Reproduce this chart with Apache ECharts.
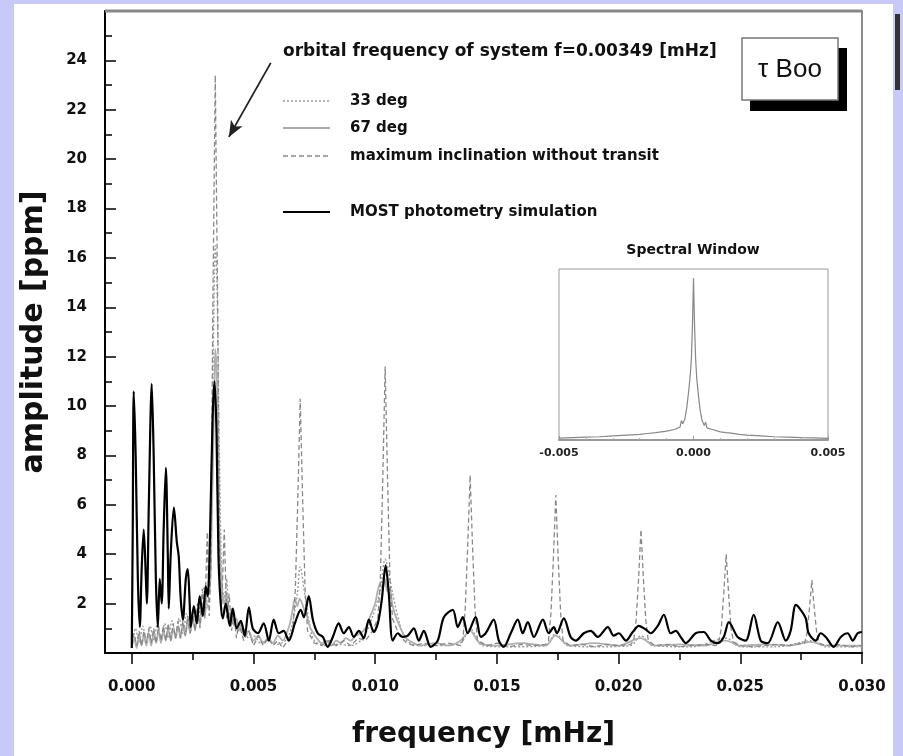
<!DOCTYPE html>
<html>
<head>
<meta charset="utf-8">
<title>tau Boo amplitude spectrum</title>
<script src="https://cdn.jsdelivr.net/npm/echarts@6/dist/echarts.min.js"></script>
<style>
  html, body { margin: 0; padding: 0; background: #c9c9f7; }
  #chart { width: 903px; height: 756px; }
</style>
</head>
<body>
<div id="chart"></div>
<script>
// frequency [mHz], amplitude [ppm]
const deg33 = [
  [0.0000, 0.4], [0.00015, 1.0], [0.0003, 0.4], [0.00045, 1.1], [0.0006, 0.5], [0.00075, 1.1],
  [0.0009, 0.5], [0.00105, 1.2], [0.0012, 0.5], [0.00135, 1.2], [0.0015, 0.6], [0.00165, 1.3],
  [0.0018, 0.7], [0.00195, 1.4], [0.0021, 0.8], [0.00225, 1.6], [0.0024, 0.9], [0.00255, 1.8],
  [0.0027, 1.2], [0.00285, 2.2], [0.0030, 2.7], [0.0031, 1.8], [0.0032, 3.5], [0.0033, 9.0],
  [0.0034, 15.5], [0.00343, 16.5], [0.0035, 15.0], [0.0036, 8.0], [0.0037, 3.0], [0.0038, 2.2],
  [0.0039, 3.0], [0.0040, 1.5], [0.0042, 1.3], [0.0044, 0.9], [0.0046, 1.0], [0.0048, 0.6],
  [0.0050, 0.7], [0.0053, 0.4], [0.0056, 0.5], [0.0060, 0.35], [0.0064, 0.6], [0.0066, 1.2],
  [0.0068, 2.4], [0.00692, 3.5], [0.0071, 2.4], [0.0073, 1.2], [0.0075, 0.5], [0.0080, 0.3],
  [0.0085, 0.35], [0.0090, 0.3], [0.0095, 0.6], [0.0099, 1.5], [0.0102, 2.5], [0.01041, 3.8],
  [0.0107, 2.5], [0.0110, 1.2], [0.0113, 0.5], [0.0118, 0.3], [0.0125, 0.3], [0.0135, 0.4],
  [0.0139, 1.0], [0.0144, 0.3], [0.0155, 0.25], [0.0170, 0.3], [0.01742, 0.8], [0.0179, 0.3],
  [0.0190, 0.25], [0.0205, 0.3], [0.02092, 0.7], [0.0214, 0.3], [0.0230, 0.25], [0.02442, 0.6],
  [0.0250, 0.25], [0.0265, 0.25], [0.02794, 0.5], [0.0285, 0.25], [0.0300, 0.25]
];

const deg67 = [
  [0.0000, 0.2], [0.0001, 0.6], [0.0002, 0.2], [0.0003, 0.7], [0.0004, 0.3], [0.0005, 0.7],
  [0.0006, 0.3], [0.0007, 0.8], [0.0008, 0.3], [0.0009, 0.8], [0.0010, 0.4], [0.0011, 0.9],
  [0.0012, 0.4], [0.0013, 0.9], [0.0014, 0.5], [0.0015, 1.0], [0.0016, 0.5], [0.0017, 1.0],
  [0.0018, 0.6], [0.0019, 1.1], [0.0020, 0.6], [0.0021, 1.2], [0.0022, 0.7], [0.0023, 1.3],
  [0.0024, 0.8], [0.0025, 1.5], [0.0026, 0.9], [0.0027, 1.8], [0.0028, 1.1], [0.0029, 2.0],
  [0.0030, 1.5], [0.0031, 2.6], [0.0032, 2.4], [0.0033, 6.0], [0.0034, 11.0], [0.00343, 12.3],
  [0.0035, 11.0], [0.0036, 5.0], [0.0037, 2.6], [0.0038, 2.0], [0.0039, 2.4], [0.0040, 1.4],
  [0.0041, 1.8], [0.0042, 1.1], [0.0043, 1.4], [0.0044, 0.9], [0.0045, 1.2], [0.0046, 0.7],
  [0.0048, 0.9], [0.0050, 0.5], [0.0052, 0.7], [0.0054, 0.4], [0.0056, 0.6], [0.0058, 0.4],
  [0.0060, 0.7], [0.0062, 0.5], [0.0064, 0.9], [0.0065, 1.2], [0.0066, 1.7], [0.0067, 2.2],
  [0.0068, 1.9], [0.0069, 2.2], [0.0070, 2.0], [0.0071, 1.7], [0.0072, 1.5], [0.0073, 1.1],
  [0.0074, 0.9], [0.0076, 0.6], [0.0078, 0.4], [0.0080, 0.5], [0.0082, 0.3], [0.0084, 0.5],
  [0.0086, 0.4], [0.0088, 0.6], [0.0090, 0.5], [0.0092, 0.7], [0.0094, 0.8], [0.0096, 1.0],
  [0.0098, 1.5], [0.0100, 2.0], [0.0101, 2.5], [0.0102, 2.8], [0.0103, 2.6], [0.0104, 3.0],
  [0.0105, 2.5], [0.0106, 2.6], [0.0107, 2.0], [0.0108, 1.6], [0.0110, 1.1], [0.0112, 0.7],
  [0.0114, 0.5], [0.0116, 0.4], [0.0118, 0.3], [0.0125, 0.4], [0.0130, 0.3], [0.0135, 0.5],
  [0.0139, 0.9], [0.0143, 0.4], [0.0150, 0.3], [0.0160, 0.4], [0.0170, 0.3], [0.0174, 0.7],
  [0.0180, 0.3], [0.0190, 0.4], [0.0200, 0.3], [0.0209, 0.6], [0.0215, 0.3], [0.0225, 0.35],
  [0.0235, 0.3], [0.0244, 0.5], [0.0250, 0.3], [0.0260, 0.35], [0.0270, 0.3], [0.0279, 0.45],
  [0.0285, 0.3], [0.0300, 0.3]
];

const maxIncl = [
  [0.0000, 0.3], [0.0001, 0.8], [0.0002, 0.3], [0.0003, 0.9], [0.0004, 0.3], [0.0005, 0.9],
  [0.0006, 0.4], [0.0007, 1.0], [0.0008, 0.4], [0.0009, 1.0], [0.0010, 0.4], [0.0011, 1.1],
  [0.0012, 0.5], [0.0013, 1.1], [0.0014, 0.5], [0.0015, 1.2], [0.0016, 0.5], [0.0017, 1.2],
  [0.0018, 0.6], [0.0019, 1.3], [0.0020, 0.6], [0.0021, 1.3], [0.0022, 0.7], [0.0023, 1.5],
  [0.0024, 0.8], [0.0025, 1.6], [0.0026, 0.9], [0.0027, 2.0], [0.0028, 1.0], [0.0029, 2.6],
  [0.0030, 1.4], [0.0031, 4.9], [0.00318, 1.5], [0.00325, 3.5], [0.00333, 14.0], [0.00343, 23.4],
  [0.00353, 14.0], [0.00361, 3.5], [0.00368, 1.5], [0.0038, 5.0], [0.0039, 1.4], [0.0040, 2.4],
  [0.0041, 0.9], [0.0042, 1.6], [0.0043, 0.6], [0.0044, 1.2], [0.0046, 0.5], [0.0048, 0.9],
  [0.0050, 0.3], [0.0052, 0.7], [0.0054, 0.3], [0.0056, 0.6], [0.0058, 0.3], [0.0060, 0.5],
  [0.0062, 0.2], [0.0064, 0.5], [0.00662, 0.9], [0.00672, 2.6], [0.00682, 6.2], [0.00692, 10.3],
  [0.00702, 6.2], [0.00712, 2.6], [0.00722, 0.9], [0.0075, 0.4], [0.0078, 0.3], [0.0081, 0.5],
  [0.0084, 0.3], [0.0087, 0.5], [0.0090, 0.3], [0.0093, 0.6], [0.0096, 0.5], [0.0099, 0.9],
  [0.01011, 1.4], [0.01021, 2.9], [0.01031, 7.0], [0.01041, 11.6], [0.01051, 7.0], [0.01061, 2.9],
  [0.01071, 1.4], [0.0110, 0.7], [0.0113, 0.4], [0.0116, 0.3], [0.0120, 0.4], [0.0125, 0.3],
  [0.0130, 0.4], [0.0135, 0.3], [0.0136, 0.5], [0.0137, 1.8], [0.0138, 4.3], [0.0139, 7.2],
  [0.0140, 4.3], [0.0141, 1.8], [0.0142, 0.5], [0.0146, 0.3], [0.0150, 0.4], [0.0155, 0.25],
  [0.0160, 0.35], [0.0165, 0.3], [0.0170, 0.35], [0.01712, 0.5], [0.01722, 1.6], [0.01732, 3.8],
  [0.01742, 6.4], [0.01752, 3.8], [0.01762, 1.6], [0.01772, 0.5], [0.0180, 0.3], [0.0185, 0.35],
  [0.0190, 0.25], [0.0195, 0.35], [0.0200, 0.3], [0.0205, 0.35], [0.02062, 0.5], [0.02072, 1.3],
  [0.02082, 3.0], [0.02092, 5.0], [0.02102, 3.0], [0.02112, 1.3], [0.02122, 0.5], [0.0215, 0.3],
  [0.0220, 0.35], [0.0225, 0.25], [0.0230, 0.3], [0.0235, 0.35], [0.0240, 0.3], [0.02412, 0.45],
  [0.02422, 1.0], [0.02432, 2.4], [0.02442, 4.0], [0.02452, 2.4], [0.02462, 1.0], [0.02472, 0.45],
  [0.0250, 0.3], [0.0255, 0.25], [0.0260, 0.3], [0.0265, 0.35], [0.0270, 0.3], [0.02764, 0.4],
  [0.02774, 0.8], [0.02784, 1.8], [0.02794, 2.95], [0.02804, 1.8], [0.02814, 0.8], [0.02824, 0.4],
  [0.0285, 0.3], [0.0290, 0.35], [0.0295, 0.25], [0.0300, 0.3]
];

const mostSim = [
  [0.00000, 0.2], [0.00004, 5.0], [0.00008, 10.6], [0.00016, 8.0], [0.00025, 3.0], [0.00033, 1.05],
  [0.00041, 3.5], [0.00049, 5.0], [0.00058, 3.0], [0.00062, 2.0], [0.00070, 6.0], [0.00082, 10.9],
  [0.00090, 8.0], [0.00099, 3.0], [0.00107, 1.05], [0.00115, 3.0], [0.00123, 2.0], [0.00131, 5.0],
  [0.00140, 7.5], [0.00148, 4.0], [0.00152, 1.8], [0.00160, 4.0], [0.00173, 5.9], [0.00185, 4.5],
  [0.00193, 3.9], [0.00201, 2.2], [0.00210, 1.35], [0.00222, 3.0], [0.00230, 3.4], [0.00238, 2.0],
  [0.00242, 1.05], [0.00255, 1.9], [0.00267, 1.2], [0.00279, 2.3], [0.00292, 1.5], [0.00304, 2.7],
  [0.00312, 2.3], [0.00322, 5.0], [0.00332, 9.5], [0.00340, 11.0], [0.00348, 9.0], [0.00356, 4.0],
  [0.00364, 2.2], [0.00374, 1.4], [0.00386, 2.0], [0.00403, 1.1], [0.00415, 1.8], [0.00431, 1.0],
  [0.00448, 1.3], [0.00464, 0.7], [0.00481, 1.85], [0.00497, 1.0], [0.00518, 0.8], [0.00542, 1.2],
  [0.00563, 0.5], [0.00583, 1.35], [0.00604, 0.8], [0.00624, 0.9], [0.00645, 0.5], [0.00670, 1.2],
  [0.00694, 1.75], [0.00707, 1.45], [0.00727, 2.3], [0.00744, 1.35], [0.00764, 0.8], [0.00785, 0.65],
  [0.00805, 0.25], [0.00826, 0.65], [0.00850, 1.2], [0.00871, 0.8], [0.00892, 1.05], [0.00912, 0.65],
  [0.00933, 0.9], [0.00953, 0.6], [0.00974, 1.35], [0.00994, 0.85], [0.01011, 1.2], [0.01027, 2.15],
  [0.01043, 3.55], [0.01056, 2.4], [0.01072, 0.5], [0.01093, 0.8], [0.01113, 0.65], [0.01134, 0.7],
  [0.01159, 1.0], [0.01179, 0.5], [0.01200, 0.9], [0.01228, 0.25], [0.01257, 0.5], [0.01282, 1.45],
  [0.01319, 1.75], [0.01339, 1.05], [0.01360, 1.45], [0.01380, 0.8], [0.01413, 1.45], [0.01434, 0.65],
  [0.01454, 0.8], [0.01487, 1.35], [0.01508, 0.5], [0.01528, 0.25], [0.01557, 0.8], [0.01586, 1.35],
  [0.01606, 0.8], [0.01627, 1.25], [0.01652, 0.65], [0.01689, 1.35], [0.01713, 0.8], [0.01734, 1.05],
  [0.01746, 0.8], [0.01775, 1.4], [0.01803, 0.65], [0.01824, 0.5], [0.01857, 0.8], [0.01886, 0.9],
  [0.01914, 0.65], [0.01956, 1.05], [0.01980, 0.7], [0.02001, 0.8], [0.02030, 0.5], [0.02058, 0.85],
  [0.02083, 1.1], [0.02112, 0.95], [0.02132, 0.8], [0.02161, 1.1], [0.02186, 1.55], [0.02214, 0.8],
  [0.02235, 0.9], [0.02255, 0.65], [0.02276, 0.4], [0.02317, 0.8], [0.02350, 0.85], [0.02379, 0.5],
  [0.02407, 0.4], [0.02432, 0.65], [0.02453, 1.25], [0.02489, 0.65], [0.02522, 0.5], [0.02555, 1.55],
  [0.02584, 0.5], [0.02613, 0.4], [0.02654, 1.25], [0.02687, 0.5], [0.02707, 0.9], [0.02728, 1.95],
  [0.02748, 1.75], [0.02769, 1.4], [0.02781, 0.8], [0.02810, 0.5], [0.02830, 0.8], [0.02851, 0.65],
  [0.02884, 0.25], [0.02913, 0.65], [0.02941, 0.8], [0.02962, 0.5], [0.02982, 0.8], [0.03000, 0.85]
];

// spectral window inset: frequency offset [mHz], relative power
const spectralWindow = [
  [-0.0050, 0.012], [-0.0045, 0.015], [-0.0040, 0.018], [-0.0035, 0.02], [-0.0030, 0.025],
  [-0.0025, 0.03], [-0.0020, 0.035], [-0.0017, 0.04], [-0.0014, 0.045], [-0.0012, 0.05],
  [-0.0010, 0.055], [-0.0007, 0.065], [-0.0005, 0.08], [-0.00045, 0.12], [-0.0004, 0.1],
  [-0.00032, 0.13], [-0.00025, 0.2], [-0.00018, 0.3], [-0.00012, 0.4], [-0.00008, 0.5],
  [-0.00004, 0.7], [0.0, 1.0], [0.00004, 0.7], [0.00008, 0.5], [0.00012, 0.38], [0.00018, 0.28],
  [0.00025, 0.18], [0.00032, 0.12], [0.0004, 0.09], [0.00045, 0.11], [0.0005, 0.075],
  [0.0007, 0.065], [0.0010, 0.05], [0.0012, 0.045], [0.0014, 0.042], [0.0017, 0.035],
  [0.0020, 0.03], [0.0025, 0.025], [0.0030, 0.02], [0.0035, 0.018], [0.0040, 0.015],
  [0.0045, 0.013], [0.0050, 0.01]
];

const xLabelValues = [0, 0.005, 0.010, 0.015, 0.020, 0.025, 0.030];
const xMinorValues = [0.0025, 0.0075, 0.0125, 0.0175, 0.0225, 0.0275];
const legendNames = ['33 deg', '67 deg', 'maximum inclination without transit', 'MOST photometry simulation'];
const orbitalNote = 'orbital frequency of system f=0.00349 [mHz]';

const FONT = '"DejaVu Sans", "Liberation Sans", sans-serif';

const chart = echarts.init(document.getElementById('chart'));

const legendRows = [
  { y: 101, dash: [2, 2], color: '#9a9a9a', width: 1.5 },
  { y: 128, dash: null, color: '#ababab', width: 2 },
  { y: 156, dash: [5, 3], color: '#8a8a8a', width: 1.3 },
  { y: 212, dash: null, color: '#000', width: 2.2 }
];

const legendGraphics = [];
legendRows.forEach((row, i) => {
  legendGraphics.push({
    type: 'line',
    shape: { x1: 283, y1: row.y, x2: 330, y2: row.y },
    style: { stroke: row.color, lineWidth: row.width, lineDash: row.dash }
  });
  legendGraphics.push({
    type: 'text',
    x: 350,
    y: row.y,
    style: {
      text: legendNames[i],
      font: 'bold 15px ' + FONT,
      fill: '#111',
      verticalAlign: 'middle'
    }
  });
});

const option = {
  backgroundColor: 'transparent',
  animation: false,
  graphic: [
    { type: 'rect', z: -10, shape: { x: 14, y: 4, width: 879, height: 752 }, style: { fill: '#fff' } },
    { type: 'rect', z: -9, shape: { x: 895, y: 14, width: 5, height: 76 }, style: { fill: '#333' } },
    {
      type: 'line', z: 50,
      shape: { x1: 105, y1: 11, x2: 862, y2: 11 },
      style: { stroke: '#888', lineWidth: 3 }
    },
    {
      type: 'text',
      x: 283, y: 52,
      style: { text: orbitalNote, font: 'bold 17px ' + FONT, fill: '#111', verticalAlign: 'middle' }
    },
    ...legendGraphics,
    // tau Boo label box with shadow
    { type: 'rect', shape: { x: 750, y: 48, width: 97, height: 63 }, style: { fill: '#000' } },
    { type: 'rect', shape: { x: 742, y: 38, width: 96, height: 62 }, style: { fill: '#fff', stroke: '#777', lineWidth: 1.5 } },
    {
      type: 'text', x: 790, y: 70,
      style: { text: 'τ Boo', font: '26px "Liberation Sans", sans-serif', fill: '#111', align: 'center', verticalAlign: 'middle' }
    },
    {
      type: 'text', x: 693, y: 250,
      style: { text: 'Spectral Window', font: 'bold 14px ' + FONT, fill: '#111', align: 'center', verticalAlign: 'middle' }
    }
  ],
  grid: [
    { left: 105, top: 11, right: 41, bottom: 103, show: true, borderColor: '#666', borderWidth: 1.5, backgroundColor: 'transparent' },
    { left: 559, top: 269, width: 269, height: 171, show: true, borderColor: '#999', borderWidth: 1, backgroundColor: 'transparent' }
  ],
  xAxis: [
    {
      gridIndex: 0,
      type: 'value',
      min: -0.0011,
      max: 0.030,
      name: 'frequency [mHz]',
      nameLocation: 'middle',
      nameGap: 68,
      nameTextStyle: { fontFamily: FONT, fontWeight: 'bold', fontSize: 28, color: '#111' },
      axisLine: { onZero: false, lineStyle: { color: '#000', width: 2 } },
      axisTick: { customValues: xLabelValues, length: 11, lineStyle: { color: '#000', width: 1.5 } },
      axisLabel: {
        customValues: xLabelValues,
        margin: 27,
        fontFamily: FONT, fontWeight: 'bold', fontSize: 15, color: '#111',
        formatter: (v) => v.toFixed(3)
      },
      splitLine: { show: false }
    },
    {
      gridIndex: 0,
      type: 'value',
      min: -0.0011,
      max: 0.030,
      position: 'bottom',
      axisLine: { show: false, onZero: false },
      axisTick: { customValues: xMinorValues, length: 7, lineStyle: { color: '#000', width: 1.5 } },
      axisLabel: { show: false },
      splitLine: { show: false }
    },
    {
      gridIndex: 1,
      type: 'value',
      min: -0.005,
      max: 0.005,
      interval: 0.005,
      axisLine: { onZero: false, lineStyle: { color: '#999', width: 2 } },
      axisTick: { show: true, inside: true, length: 4, lineStyle: { color: '#999' } },
      minorTick: { show: true, splitNumber: 5, length: 2, lineStyle: { color: '#aaa' } },
      axisLabel: {
        margin: 8,
        fontFamily: FONT, fontWeight: 'bold', fontSize: 11, color: '#222',
        formatter: (v) => v.toFixed(3)
      },
      splitLine: { show: false }
    }
  ],
  yAxis: [
    {
      gridIndex: 0,
      type: 'value',
      min: 0,
      max: 26,
      interval: 2,
      name: 'amplitude [ppm]',
      nameLocation: 'middle',
      nameGap: 56,
      nameTextStyle: { fontFamily: FONT, fontWeight: 'bold', fontSize: 30, color: '#111' },
      axisLine: { onZero: false, lineStyle: { color: '#000', width: 2 } },
      axisTick: { inside: true, length: 11, lineStyle: { color: '#000', width: 1.5 } },
      minorTick: { show: true, splitNumber: 2, length: 7, lineStyle: { color: '#000', width: 1.5 } },
      axisLabel: {
        margin: 18,
        fontFamily: FONT, fontWeight: 'bold', fontSize: 15, color: '#111',
        formatter: (v) => (v === 0 || v === 26 ? '' : String(v))
      },
      splitLine: { show: false }
    },
    {
      gridIndex: 1,
      type: 'value',
      min: 0,
      max: 1.055,
      show: false,
      splitLine: { show: false }
    }
  ],
  series: [
    {
      name: legendNames[0], type: 'line', xAxisIndex: 0, yAxisIndex: 0,
      data: deg33, showSymbol: false, smooth: 0.3,
      lineStyle: { color: '#9a9a9a', width: 1.4, type: [2, 2] }
    },
    {
      name: legendNames[1], type: 'line', xAxisIndex: 0, yAxisIndex: 0,
      data: deg67, showSymbol: false, smooth: 0.3,
      lineStyle: { color: '#b0b0b0', width: 1.8 }
    },
    {
      name: legendNames[2], type: 'line', xAxisIndex: 0, yAxisIndex: 0,
      data: maxIncl, showSymbol: false,
      lineStyle: { color: '#888', width: 1.3, type: [5, 3] },
      markLine: {
        silent: true,
        symbol: ['none', 'arrow'],
        symbolSize: [10, 16],
        label: { show: false },
        lineStyle: { color: '#222', width: 1.8, type: 'solid' },
        data: [[{ coord: [0.00571, 23.9] }, { coord: [0.00399, 20.9] }]]
      }
    },
    {
      name: legendNames[3], type: 'line', xAxisIndex: 0, yAxisIndex: 0,
      data: mostSim, showSymbol: false, smooth: 0.3,
      lineStyle: { color: '#000', width: 2.2 }
    },
    {
      name: 'Spectral Window', type: 'line', xAxisIndex: 2, yAxisIndex: 1,
      data: spectralWindow, showSymbol: false,
      lineStyle: { color: '#888', width: 1.2 }
    }
  ]
};

chart.setOption(option);
</script>
</body>
</html>
